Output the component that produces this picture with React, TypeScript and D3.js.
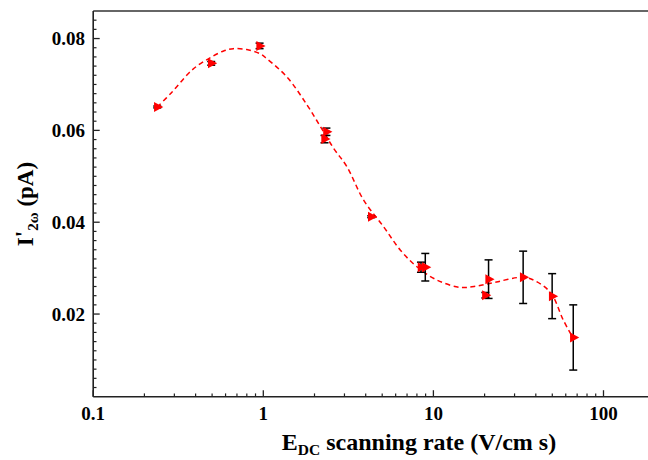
import React from "react";
import * as d3 from "d3";

// Measured data (E_DC scanning rate in V/cm s, I'2ω in pA)
const rates = [0.238, 0.494, 0.951, 2.35, 2.29, 4.31, 8.45, 8.96, 20.2, 21.1, 33.7, 49.9, 66.4];
const currents = [0.0651, 0.0746, 0.0784, 0.0597, 0.0581, 0.0412, 0.0302, 0.0302, 0.0241, 0.0276, 0.028, 0.0239, 0.0149];
const errors = [0.0002, 0.0004, 0.0006, 0.0008, 0.0008, 0.0002, 0.0011, 0.003, 0.0006, 0.0042, 0.0057, 0.0049, 0.0071];

// Fitted guide curve
const fitX = [0.238, 0.29, 0.363, 0.407, 0.486, 0.584, 0.667, 0.8, 0.955, 1.05, 1.38, 1.81, 2.17, 2.59, 3.1, 3.89, 5.1, 6.4, 8.0, 10.5, 14.4, 18.1, 23.5, 33.9, 40.7, 49.2, 58.0, 66.4];
const fitY = [0.0651, 0.0683, 0.0724, 0.074, 0.0758, 0.0773, 0.0778, 0.0776, 0.0767, 0.0756, 0.0716, 0.0655, 0.0608, 0.0561, 0.0521, 0.0448, 0.039, 0.0339, 0.0303, 0.0274, 0.0258, 0.0261, 0.027, 0.028, 0.027, 0.0245, 0.0187, 0.0147];

const xMajor = [0.1, 1, 10, 100];
const xMajorLabels = ["0.1", "1", "10", "100"];
const yMajor = [0.02, 0.04, 0.06, 0.08];
const yMajorLabels = ["0.02", "0.04", "0.06", "0.08"];

const W = 648;
const H = 460;
const LEFT = 93.2;
const TOP = 11;
const BOTTOM = 396.7;

export default function App() {
  const x = d3.scaleLog().domain([0.1, 200]).range([LEFT, 654.7]);
  const y = d3.scaleLinear().domain([0.002, 0.086]).range([BOTTOM, TOP]);

  const xMinor: number[] = [];
  for (const dec of [0.1, 1, 10, 100]) {
    for (let k = 2; k <= 9; k++) {
      const v = dec * k;
      if (v < 200) xMinor.push(v);
    }
  }
  const yMinor: number[] = [];
  for (let i = 2; i <= 42; i++) {
    const v = i * 0.002;
    if (i % 10 !== 0) yMinor.push(v);
  }

  const line = d3
    .line<number>()
    .x((_, i) => x(fitX[i]))
    .y((d) => y(d))
    .curve(d3.curveCatmullRom.alpha(0.5));

  const font = "'Liberation Serif', 'Times New Roman', serif";
  const axisColor = "#222";

  return (
    <svg
      width={W}
      height={H}
      style={{ position: "absolute", left: 0, top: 0, background: "#fff" }}
      fontFamily={font}
    >
      <rect x={0} y={0} width={W} height={H} fill="#fff" />
      {/* frame */}
      <line x1={LEFT} x2={W} y1={TOP} y2={TOP} stroke="#333" strokeWidth={1.6} />
      <line x1={LEFT} x2={W} y1={BOTTOM} y2={BOTTOM} stroke={axisColor} strokeWidth={1.6} />
      <line x1={LEFT} x2={LEFT} y1={TOP} y2={BOTTOM} stroke={axisColor} strokeWidth={1.6} />

      {/* x ticks */}
      {xMajor.map((v) => (
        <line key={"xM" + v} x1={x(v)} x2={x(v)} y1={BOTTOM} y2={BOTTOM - 6.5} stroke={axisColor} strokeWidth={1.3} />
      ))}
      {xMinor.map((v) => (
        <line key={"xm" + v} x1={x(v)} x2={x(v)} y1={BOTTOM} y2={BOTTOM - 3.3} stroke={axisColor} strokeWidth={1.2} />
      ))}
      {xMajor.map((v, i) => (
        <text key={"xl" + v} x={x(v)} y={420} textAnchor="middle" fontSize={19} fontWeight="bold">
          {xMajorLabels[i]}
        </text>
      ))}

      {/* y ticks */}
      {yMajor.map((v) => (
        <line key={"yM" + v} x1={LEFT} x2={LEFT + 6.5} y1={y(v)} y2={y(v)} stroke={axisColor} strokeWidth={1.3} />
      ))}
      {yMinor.map((v) => (
        <line key={"ym" + v} x1={LEFT} x2={LEFT + 3.3} y1={y(v)} y2={y(v)} stroke={axisColor} strokeWidth={1.2} />
      ))}
      {yMajor.map((v, i) => (
        <text key={"yl" + v} x={85} y={y(v)} dy="0.35em" textAnchor="end" fontSize={19} fontWeight="bold">
          {yMajorLabels[i]}
        </text>
      ))}

      {/* axis titles */}
      <text x={419} y={450} textAnchor="middle" fontSize={24} fontWeight="bold">
        E<tspan fontSize={15.5} dy={5}>DC</tspan>
        <tspan dy={-5}> scanning rate (V/cm s)</tspan>
      </text>
      <text transform="translate(33,204) rotate(-90)" textAnchor="middle" fontSize={23} fontWeight="bold">
        I<tspan dy={-2}>'</tspan>
        <tspan fontSize={15} dy={7}>2ω</tspan>
        <tspan dy={-5}> (pA)</tspan>
      </text>

      {/* fit curve */}
      <path d={line(fitY) || ""} fill="none" stroke="#ff0000" strokeWidth={1.5} strokeDasharray="5,3.5" />

      {/* error bars */}
      {rates.map((r, i) => {
        const cx = x(r);
        const y1 = y(currents[i] + errors[i]);
        const y2 = y(currents[i] - errors[i]);
        return (
          <g key={"e" + i} stroke="#000" strokeWidth={1.5}>
            <line x1={cx} x2={cx} y1={y1} y2={y2} />
            <line x1={cx - 4} x2={cx + 4} y1={y1} y2={y1} />
            <line x1={cx - 4} x2={cx + 4} y1={y2} y2={y2} />
          </g>
        );
      })}

      {/* markers */}
      {rates.map((r, i) => {
        const cx = x(r);
        const cy = y(currents[i]);
        return (
          <path
            key={"p" + i}
            d={`M${cx - 3.2},${cy - 5} L${cx + 6},${cy} L${cx - 3.2},${cy + 5} Z`}
            fill="#ff0000"
          />
        );
      })}
    </svg>
  );
}
